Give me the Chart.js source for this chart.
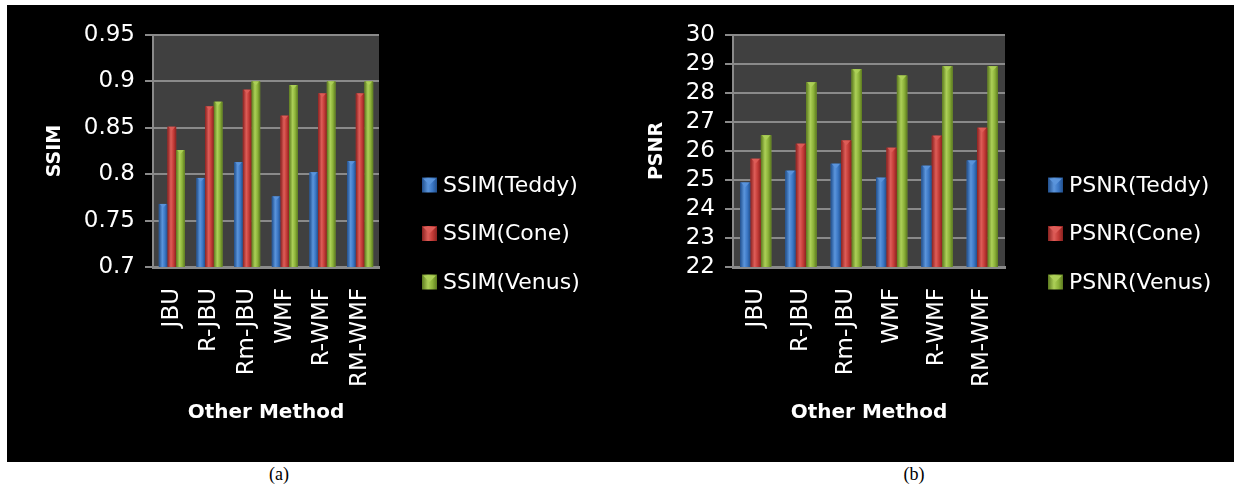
<!DOCTYPE html>
<html>
<head>
<meta charset="utf-8">
<script src="https://cdn.jsdelivr.net/npm/chart.js@4/dist/chart.umd.min.js"></script>
<style>
  html, body { margin: 0; padding: 0; background: #fff; width: 1234px; height: 488px; overflow: hidden; }
  #panel { position: absolute; left: 7px; top: 5px; width: 1227px; height: 457px; background: #000; }
  .wrap { position: absolute; top: 5px; height: 457px; }
  #wa { left: 7px; width: 613px; }
  #wb { left: 620px; width: 614px; }
  canvas { display: block; }
  .cap { position: absolute; top: 464px; font-family: "Liberation Serif", "Times New Roman", serif; font-size: 18px; color: #000; transform: translateX(-50%); }
</style>
</head>
<body>
<div id="panel"></div>
<div class="wrap" id="wa"><canvas id="ca" width="613" height="457"></canvas></div>
<div class="wrap" id="wb"><canvas id="cb" width="614" height="457"></canvas></div>
<div class="cap" style="left:279px">(a)</div>
<div class="cap" style="left:914px">(b)</div>
<script>
// Methods compared on the x axis
const methods = ['JBU', 'R-JBU', 'Rm-JBU', 'WMF', 'R-WMF', 'RM-WMF'];

// SSIM per test image
const ssimTeddy = [0.768, 0.796, 0.813, 0.776, 0.802, 0.814];
const ssimCone  = [0.851, 0.873, 0.891, 0.863, 0.887, 0.887];
const ssimVenus = [0.826, 0.878, 0.900, 0.896, 0.900, 0.900];
const ssimTickLabels = ['0.7', '0.75', '0.8', '0.85', '0.9', '0.95'];

// PSNR (dB) per test image
const psnrTeddy = [24.91, 25.32, 25.56, 25.08, 25.49, 25.67];
const psnrCone  = [25.73, 26.25, 26.36, 26.11, 26.53, 26.80];
const psnrVenus = [26.54, 28.37, 28.82, 28.60, 28.92, 28.92];
const psnrTickLabels = ['22', '23', '24', '25', '26', '27', '28', '29', '30'];

const FONT = '"DejaVu Sans", "Liberation Sans", sans-serif';
const GRID = '#8a8a8a';

// Shading for the bevelled bars: [dark edge, highlight, body]
const shades = [
  { dark: '#214f8c', light: '#5b95dc', mid: '#3b77c5' },
  { dark: '#8a2220', light: '#de5d58', mid: '#c33b37' },
  { dark: '#5c7a1f', light: '#add058', mid: '#8cb239' }
];

function shadedFill(ctx, left, right, i) {
  const g = ctx.createLinearGradient(left, 0, right, 0);
  g.addColorStop(0, shades[i].dark);
  g.addColorStop(0.4, shades[i].light);
  g.addColorStop(0.7, shades[i].mid);
  g.addColorStop(1, shades[i].dark);
  return g;
}

// Dark plot area behind the bars
const plotBackground = {
  id: 'plotBackground',
  beforeDraw(chart) {
    const { ctx, chartArea: a } = chart;
    ctx.save();
    ctx.fillStyle = '#404040';
    ctx.fillRect(a.left, a.top, a.right - a.left, a.bottom - a.top);
    ctx.restore();
  }
};

// Re-paint every bar with a rounded shading and a small bevel at its top
const bevelBars = {
  id: 'bevelBars',
  afterDatasetsDraw(chart) {
    const { ctx, chartArea: a } = chart;
    ctx.save();
    ctx.beginPath();
    ctx.rect(a.left, a.top - 2, a.right - a.left, a.bottom - a.top + 2);
    ctx.clip();
    chart.data.datasets.forEach((ds, i) => {
      const meta = chart.getDatasetMeta(i);
      meta.data.forEach(el => {
        const left = el.x - el.width / 2, right = el.x + el.width / 2;
        ctx.fillStyle = shadedFill(ctx, left, right, i);
        ctx.fillRect(left, el.y, el.width, el.base - el.y);
        ctx.beginPath();
        ctx.moveTo(left + 1, el.y);
        ctx.lineTo(right - 1, el.y);
        ctx.lineTo(el.x, el.y + el.width * 0.45);
        ctx.closePath();
        ctx.fillStyle = shades[i].light;
        ctx.globalAlpha = 0.9;
        ctx.fill();
        ctx.globalAlpha = 1;
      });
    });
    ctx.restore();
  }
};

// Legend to the right of the plot, one row per dataset
const sideLegend = {
  id: 'sideLegend',
  afterDraw(chart) {
    const { ctx, chartArea: a } = chart;
    ctx.save();
    chart.data.datasets.forEach((ds, i) => {
      const bx = a.right + 43;
      const cy = a.top + 150 + i * 48.5;
      const s = 15;
      ctx.fillStyle = shadedFill(ctx, bx, bx + s, i);
      ctx.fillRect(bx, cy - s / 2, s, s);
      ctx.beginPath();
      ctx.moveTo(bx + 1, cy - s / 2 + 1);
      ctx.lineTo(bx + s - 1, cy - s / 2 + 1);
      ctx.lineTo(bx + s / 2, cy);
      ctx.closePath();
      ctx.fillStyle = shades[i].light;
      ctx.fill();
      ctx.fillStyle = '#fff';
      ctx.font = '22px ' + FONT;
      ctx.textAlign = 'left';
      ctx.textBaseline = 'middle';
      ctx.fillText(ds.label, bx + s + 6, cy + 1);
    });
    ctx.restore();
  }
};

function makeChart(id, cfg) {
  return new Chart(document.getElementById(id), {
    type: 'bar',
    data: {
      labels: methods,
      datasets: cfg.series.map((s, i) => ({
        label: s.label,
        data: s.data,
        backgroundColor: shades[i].mid,
        borderWidth: 0,
        categoryPercentage: 0.69,
        barPercentage: 1
      }))
    },
    options: {
      responsive: false,
      animation: false,
      devicePixelRatio: 1,
      layout: { padding: { left: cfg.padLeft, top: 30, right: cfg.padRight, bottom: 0 } },
      plugins: { legend: { display: false }, tooltip: { enabled: false } },
      scales: {
        x: {
          grid: { display: false },
          border: { display: true, color: GRID, width: 3 },
          ticks: {
            color: '#fff', font: { family: FONT, size: 23 },
            minRotation: 90, maxRotation: 90, autoSkip: false, padding: 13
          },
          title: {
            display: true, text: 'Other Method', color: '#fff',
            font: { family: FONT, size: 20, weight: 'bold' },
            padding: { top: 0, bottom: 37 }
          },
          afterFit: s => { s.height = 195; }
        },
        y: {
          min: cfg.min, max: cfg.max,
          ticks: {
            stepSize: cfg.step, autoSkip: false, color: '#fff',
            font: { family: FONT, size: 23 }, padding: 10,
            callback: (v, i) => cfg.tickLabels[i]
          },
          grid: { color: GRID, lineWidth: 2, tickLength: 8, drawTicks: true },
          border: { display: true, color: GRID, width: 2 },
          title: {
            display: true, text: cfg.yTitle, color: '#fff',
            font: { family: FONT, size: 19, weight: 'bold' }, padding: 0
          },
          afterFit: s => { s.width = cfg.axisWidth; }
        }
      }
    },
    plugins: [plotBackground, bevelBars, sideLegend]
  });
}

makeChart('ca', {
  yTitle: 'SSIM', min: 0.7, max: 0.95, step: 0.05, tickLabels: ssimTickLabels,
  padLeft: 37, axisWidth: 109, padRight: 241,
  series: [
    { label: 'SSIM(Teddy)', data: ssimTeddy },
    { label: 'SSIM(Cone)', data: ssimCone },
    { label: 'SSIM(Venus)', data: ssimVenus }
  ]
});

makeChart('cb', {
  yTitle: 'PSNR', min: 22, max: 30, step: 1, tickLabels: psnrTickLabels,
  padLeft: 26, axisWidth: 87, padRight: 229,
  series: [
    { label: 'PSNR(Teddy)', data: psnrTeddy },
    { label: 'PSNR(Cone)', data: psnrCone },
    { label: 'PSNR(Venus)', data: psnrVenus }
  ]
});
</script>
</body>
</html>
